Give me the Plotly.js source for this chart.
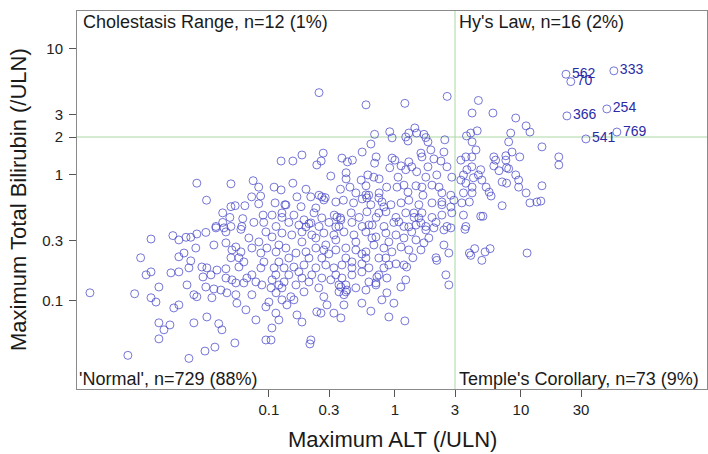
<!DOCTYPE html>
<html><head><meta charset="utf-8">
<script src="https://cdn.plot.ly/plotly-3.0.1.min.js"></script>
<style>html,body{margin:0;padding:0;background:#fff}#chart{width:708px;height:454px}</style>
</head><body><div id="chart"></div>
<script>
// Maximum ALT (/ULN) for each subject (unlabelled points)
const alt = [
0.0268,0.050,0.075,0.083,0.032,0.073,0.086,0.083,0.0645,0.054,
0.050,0.043,0.049,0.062,0.090,0.091,0.076,0.043,0.038,0.050,
0.061,0.25,0.59,1.2,2.6,0.69,0.91,0.95,1.22,1.27,
1.29,1.44,1.49,1.70,1.76,1.83,2.49,0.645,0.55,0.27,
0.26,0.24,0.183,0.155,0.125,0.38,0.42,0.46,0.71,0.69,
0.95,1.0,1.12,1.29,1.61,1.64,1.93,2.04,2.32,2.45,
2.59,2.83,0.31,0.41,0.41,0.54,0.61,0.68,0.75,0.91,
1.06,1.22,1.36,1.49,1.83,1.76,2.15,0.11,0.125,0.155,
0.197,0.37,0.44,0.49,0.59,0.62,0.75,0.86,1.04,1.18,
1.27,1.47,1.64,1.67,1.97,2.24,2.36,2.78,0.112,0.134,
0.167,0.18,0.215,0.25,0.28,0.34,0.39,0.47,0.55,0.645,
0.79,0.93,1.12,1.29,1.55,1.97,2.36,2.94,0.106,0.127,
0.158,0.19,0.228,0.263,0.33,0.37,0.45,0.52,0.60,0.71,
0.85,1.02,1.22,1.42,1.64,1.97,2.36,2.83,0.114,0.144,
0.173,0.208,0.25,0.30,0.36,0.456,0.55,0.66,0.82,0.98,
1.18,1.47,1.76,2.12,2.59,4.6,4.1,6.0,9.1,11,
11.8,8.3,4.5,4.0,3.7,4.1,4.4,8.0,14.7,8.5,
9.8,7.6,7.6,6.1,6.3,20,20,3.34,3.66,4.08,
4.08,3.73,6.1,6.7,8.0,7.7,9.1,4.8,4.6,4.2,
3.5,3.34,4.9,3.66,4.1,5.3,7.1,7.7,9.6,9.6,
14.7,5.6,5.8,11.0,3.5,4.1,3.9,3.4,7.1,11.8,
13.4,14.4,3.5,4.8,5.0,3.66,3.6,4.3,3.9,4.0,
5.2,5.7,4.9,11.2,0.0038,0.0076,0.0086,0.0116,0.0096,0.0106,
0.0116,0.0116,0.0127,0.0134,0.0134,0.0147,0.0164,0.0134,0.0173,0.0193,
0.022,0.024,0.0268,0.0316,0.038,0.044,0.060,0.0193,0.0212,0.0263,
0.024,0.0232,0.0193,0.0167,0.0224,0.0254,0.0268,0.0176,0.0193,0.0254,
0.0232,0.0311,0.0373,0.0537,0.0322,0.040,0.0424,0.0353,0.0316,0.0366,
0.0416,0.0464,0.0547,0.0294,0.0322,0.0347,0.030,0.0387,0.0456,0.0366,
0.0456,0.0509,0.0547,0.060,0.050,0.0578,0.0633,0.0578,0.0456,0.0509,
0.0547,0.0633,0.0669,0.0733,0.0789,0.088,0.0733,0.0557,0.0657,0.0789,
0.0947,0.0947,0.0694,0.0833,0.0733,0.0864,0.0964,0.0864,0.0913,0.0947,
0.0456,0.2155,0.2116,0.1057,0.104,0.1136,0.120,0.167,0.183,0.240,
0.259,0.328,0.373,0.394,0.547,0.645,0.896,1.20,0.788,0.864,
0.982,1.116,1.22,0.589,0.49,0.408,0.373,0.273,0.289,0.249,
0.19,0.1495,0.127,0.139,0.158,0.114,2.12,2.15,2.68,2.45,
1.70,1.61,1.39,1.18,1.24,2.54,2.68,0.72,0.707,0.622,
0.456,0.38,0.36,0.416,0.31,0.263,0.219,0.183,0.164,0.132,
0.12,0.106,0.104,0.100,1.02,0.896,0.818,0.622,0.547,0.456,
0.38,0.328,0.283,0.236,0.19,0.158,0.132,0.11,0.114,0.1365,
0.164,0.197,0.236,0.283,0.34,0.408,0.49,0.589,0.681,0.818,
0.946,1.12,1.29,1.18,1.36,1.76,2.04,2.45,2.78,1.02,
0.848,0.707,0.589,0.473,0.394,0.328,0.273,0.219,0.183,0.152,
0.127,0.106,
0.263,0.273,0.236,0.347,0.373,0.589,0.599,0.746,0.818,0.746,
1.415,1.55,2.36,2.78,0.127,0.1365,0.2155,0.197,0.34,0.622,
1.076,1.29,1.61,0.273,0.299,0.263,0.408,0.547,0.589,0.746,
0.848,0.208,0.144,0.12,0.1136,0.144,0.173,0.408,0.36,0.394,
0.707,0.746,0.864,0.547,0.456,0.34,0.208,0.127,0.12,0.183,
0.236,0.34,0.49,0.657,0.896,1.47,1.86
];
// Maximum Total Bilirubin (/ULN), same order as alt
const bili = [
0.86,0.85,0.90,0.80,0.63,0.67,0.68,0.59,0.57,0.57,
0.56,0.50,0.46,0.45,0.48,0.42,0.42,0.42,0.39,0.39,
0.39,4.5,3.6,3.7,4.2,2.1,2.2,1.97,2.0,1.86,
2.15,2.36,2.15,2.1,1.98,1.83,1.9,1.76,1.52,1.49,
1.29,1.2,1.44,1.29,1.29,1.36,1.27,1.31,1.39,1.24,
1.36,1.31,1.18,1.27,1.49,1.39,1.58,1.34,1.29,1.52,
1.16,0.96,0.98,1.04,0.93,0.91,1.0,0.96,0.93,1.14,
0.96,1.10,1.16,1.06,1.16,0.96,1.0,0.80,0.76,0.86,
0.77,0.77,0.80,0.72,0.82,0.69,0.72,0.80,0.80,0.83,
0.73,0.82,0.80,0.69,0.83,0.80,0.72,0.69,0.60,0.58,
0.67,0.56,0.67,0.69,0.66,0.61,0.63,0.60,0.645,0.58,
0.61,0.58,0.60,0.63,0.58,0.60,0.58,0.63,0.48,0.46,
0.48,0.44,0.50,0.456,0.48,0.456,0.50,0.46,0.51,0.46,
0.51,0.46,0.50,0.46,0.50,0.46,0.48,0.50,0.39,0.42,
0.40,0.41,0.39,0.42,0.39,0.42,0.39,0.40,0.39,0.42,
0.39,0.40,0.39,0.42,0.39,3.9,3.1,3.1,2.83,2.45,
2.19,2.15,2.24,2.15,2.04,1.83,1.58,1.83,1.67,1.52,
1.39,1.42,1.31,1.39,1.31,1.39,1.20,1.31,1.39,1.39,
1.16,1.10,1.18,1.08,1.12,1.14,1.0,1.10,1.0,0.95,
1.0,0.91,0.91,0.86,0.80,0.80,0.88,0.86,0.91,0.80,
0.82,0.73,0.68,0.72,0.72,0.72,0.61,0.60,0.57,0.60,
0.61,0.62,0.48,0.47,0.47,0.39,0.37,0.26,0.24,0.23,
0.245,0.26,0.21,0.24,0.116,0.037,0.114,0.31,0.22,0.161,
0.17,0.106,0.098,0.129,0.067,0.059,0.0645,0.050,0.33,0.305,
0.32,0.32,0.34,0.35,0.38,0.38,0.37,0.224,0.24,0.263,
0.208,0.183,0.17,0.167,0.134,0.112,0.108,0.088,0.093,0.067,
0.035,0.040,0.043,0.0464,0.0746,0.066,0.059,0.106,0.129,0.1245,
0.122,0.116,0.112,0.186,0.183,0.161,0.155,0.176,0.18,0.278,
0.289,0.254,0.268,0.245,0.22,0.22,0.204,0.186,0.152,0.147,
0.139,0.139,0.152,0.161,0.1415,0.134,0.112,0.096,0.085,0.0707,
0.0897,0.049,0.316,0.294,0.263,0.24,0.263,0.183,0.204,0.353,
0.353,0.049,0.0456,0.061,0.049,0.080,0.0707,0.0774,0.068,0.082,
0.080,0.080,0.0733,0.093,0.096,0.083,0.0746,0.0694,0.102,0.116,
0.096,0.129,0.147,0.122,0.127,0.118,0.129,0.108,0.093,0.127,
0.118,0.108,0.102,0.093,0.102,0.116,0.22,0.21,0.24,0.278,
0.289,0.254,0.22,0.193,0.186,0.161,0.134,0.155,0.139,0.1415,
0.161,0.152,0.134,0.122,0.147,0.152,0.161,0.152,0.134,0.1415,
0.134,0.147,0.127,0.098,0.197,0.193,0.183,0.183,0.197,0.204,
0.193,0.183,0.193,0.183,0.193,0.186,0.183,0.183,0.245,0.263,
0.24,0.245,0.263,0.278,0.254,0.263,0.254,0.245,0.278,0.263,
0.245,0.268,0.254,0.316,0.353,0.366,0.38,0.366,0.38,0.334,
0.346,0.322,0.353,0.334,0.353,0.334,0.346,0.334,0.353,0.334,
0.346,0.322,
0.67,0.633,0.547,0.464,0.44,0.694,0.657,0.657,0.557,0.499,
0.499,0.456,0.61,0.557,0.499,0.578,0.416,0.387,0.387,0.401,
0.424,0.387,0.416,0.254,0.236,0.219,0.219,0.236,0.219,0.219,
0.219,0.219,0.219,0.204,0.161,0.161,0.17,0.134,0.118,0.112,
0.134,0.161,0.152,0.17,0.183,0.161,0.1415,0.127,0.278,0.294,
0.316,0.305,0.294,0.316,0.294,0.305,0.316
];
// Labelled Hy's Law cases
const labelIds  = ['562','70','333','366','254','769','541'];
const labelAlt  = [22.8, 24.9, 54.7, 23.2, 48.1, 57.8, 32.8];
const labelBili = [6.3, 5.5, 6.7, 2.94, 3.34, 2.19, 1.93];

const xTicks = [0.1, 0.3, 1, 3, 10, 30];
const yTicks = [0.1, 0.3, 1, 2, 3, 10];
const altCut = 3, biliCut = 2;
const xLimits = [0.003, 300];
const yLimits = [0.02, 20];
const quadrantLabels = ["Cholestasis Range, n=12 (1%)", "Hy's Law, n=16 (2%)",
                        "'Normal', n=729 (88%)", "Temple's Corollary, n=73 (9%)"];

const FONT = 'Liberation Sans, Arial, Helvetica, sans-serif';
const ptColor = 'rgba(72,72,200,0.75)';
const refLine = {color:'#acd8a4', width:1};

const traces = [
  {x:[altCut, altCut], y:yLimits, mode:'lines', line:refLine, hoverinfo:'skip', showlegend:false},
  {x:xLimits, y:[biliCut, biliCut], mode:'lines', line:refLine, hoverinfo:'skip', showlegend:false},
  {x:alt, y:bili, mode:'markers', showlegend:false,
   marker:{symbol:'circle-open', size:8, color:ptColor, line:{width:1, color:ptColor}}},
  {x:labelAlt, y:labelBili, mode:'markers+text', text:labelIds, textposition:'middle right',
   textfont:{family:FONT, size:14, color:'#2b2ba8'}, showlegend:false, cliponaxis:false,
   marker:{symbol:'circle-open', size:8, color:ptColor, line:{width:1, color:ptColor}}}
];

const axisBase = {
  type:'log', ticks:'outside', ticklen:7, tickwidth:1, tickcolor:'#555',
  showline:true, mirror:true, linecolor:'#8a8a8a', linewidth:1,
  showgrid:false, zeroline:false, fixedrange:true,
  tickfont:{family:FONT, size:15, color:'#222'}
};

const cutFrac = (Math.log10(altCut) - Math.log10(xLimits[0])) / (Math.log10(xLimits[1]) - Math.log10(xLimits[0]));
const cornerFont = {family:FONT, size:18, color:'#1a1a1a'};

const layout = {
  width:708, height:454,
  margin:{l:77, r:1, t:11, b:65},
  paper_bgcolor:'#fff', plot_bgcolor:'#fff',
  font:{family:FONT},
  showlegend:false,
  xaxis:Object.assign({}, axisBase, {
    range:xLimits.map(Math.log10), tickvals:xTicks, ticktext:xTicks.map(String), ticklabelstandoff:0
  }),
  yaxis:Object.assign({}, axisBase, {
    range:yLimits.map(Math.log10), tickvals:yTicks, ticktext:yTicks.map(String), ticklabelstandoff:3
  }),
  annotations:[
    {text:quadrantLabels[0], xref:'paper', yref:'paper', x:0, y:1, xanchor:'left', yanchor:'middle',
     xshift:4, yshift:-11, showarrow:false, font:cornerFont},
    {text:quadrantLabels[1], xref:'paper', yref:'paper', x:cutFrac, y:1, xanchor:'left', yanchor:'middle',
     xshift:2, yshift:-11, showarrow:false, font:cornerFont},
    {text:quadrantLabels[2], xref:'paper', yref:'paper', x:0, y:0, xanchor:'left', yanchor:'middle',
     xshift:0, yshift:10, showarrow:false, font:cornerFont},
    {text:quadrantLabels[3], xref:'paper', yref:'paper', x:cutFrac, y:0, xanchor:'left', yanchor:'middle',
     xshift:2, yshift:10, showarrow:false, font:cornerFont},
    {text:'Maximum ALT (/ULN)', xref:'paper', yref:'paper', x:0.5, y:0, xanchor:'center', yanchor:'middle',
     yshift:-50, showarrow:false, font:{family:FONT, size:22, color:'#1a1a1a'}},
    {text:'Maximum Total Bilirubin (/ULN)', xref:'paper', yref:'paper', x:0, y:0.5, xanchor:'center', yanchor:'middle',
     xshift:-59, textangle:-90, showarrow:false, font:{family:FONT, size:22, color:'#1a1a1a'}}
  ]
};

Plotly.newPlot('chart', traces, layout, {staticPlot:true, displayModeBar:false});
</script>
</body></html>
